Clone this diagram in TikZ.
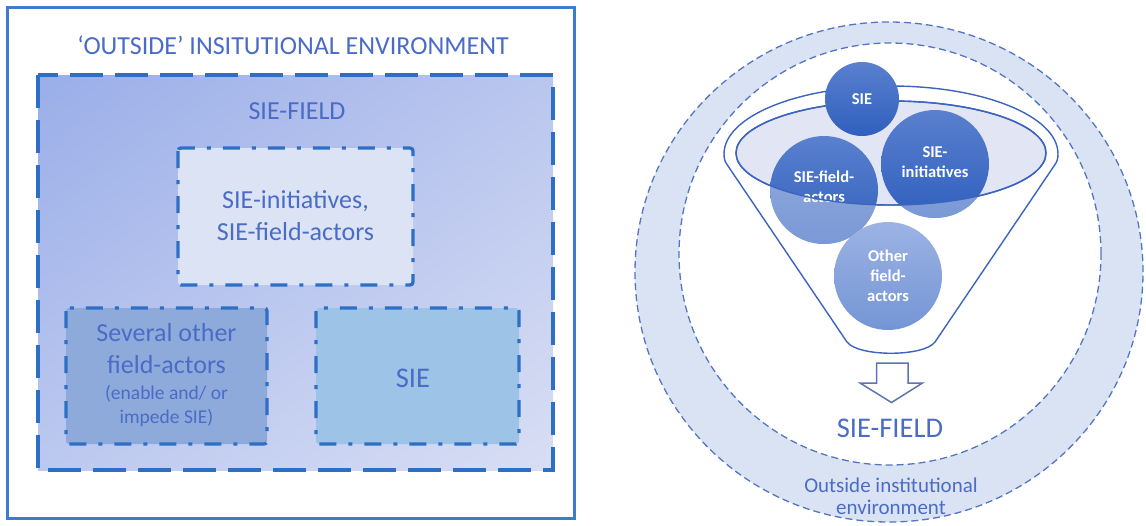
\documentclass[tikz,border=0pt]{standalone}
\usepackage{fontspec}
\setmainfont{Carlito}
\usetikzlibrary{shadings}
\definecolor{frameblue}{HTML}{3D7CCD}
\definecolor{dashblue}{HTML}{2E6FC6}
\definecolor{txtblue}{HTML}{4A6CC6}
\definecolor{fieldUL}{HTML}{9AAEE8}
\definecolor{fieldUR}{HTML}{BAC6EE}
\definecolor{fieldLL}{HTML}{BCC8EF}
\definecolor{fieldLR}{HTML}{D8DEF4}
\definecolor{initfill}{HTML}{DBE3F4}
\definecolor{otherfill}{HTML}{8EAADB}
\definecolor{siefill}{HTML}{9DC3E6}
\definecolor{ringfill}{HTML}{DAE3F3}
\definecolor{ringline}{HTML}{5476C2}
\definecolor{funnelline}{HTML}{3C64BE}
\definecolor{mouthfill}{HTML}{E2E5F4}
\definecolor{circtop}{HTML}{5A80CE}
\definecolor{circbot}{HTML}{2F5FBE}
\definecolor{othertop}{HTML}{9CB3E4}
\definecolor{otherbot}{HTML}{7495D5}
\definecolor{arrowline}{HTML}{5C75B2}
\begin{document}
\begin{tikzpicture}[x=1pt,y=-1pt,
  lbl/.style={anchor=base,inner sep=0pt,text=txtblue},
  wlbl/.style={anchor=base,inner sep=0pt,text=white,font=\fontsize{16.5}{20}\selectfont\bfseries},
  bigdash/.style={draw=dashblue,line width=3.3pt,dash pattern=on 33pt off 12pt},
  dashdot/.style={draw=dashblue,line width=3.3pt,rounded corners=3pt,dash pattern=on 17pt off 12pt on 4pt off 12pt},
  ringdash/.style={draw=ringline,line width=1.3pt,dash pattern=on 7pt off 4pt},
  darkcirc/.style={top color=circtop,bottom color=circbot},
]
\useasboundingbox (0,0) rectangle (1146,525);
\fill[white] (0,0) rectangle (1146,525);

% ---------------- left panel ----------------
\draw[frameblue,line width=3pt] (7,7) rectangle (574,518);
\node[lbl,font=\fontsize{26}{30}\selectfont] (title) at (293,54) {‘OUTSIDE’ INSITUTIONAL ENVIRONMENT};

\shade[shading=bilinear interpolation,upper left=fieldUL,upper right=fieldUR,lower left=fieldLL,lower right=fieldLR]
  (38,75) rectangle (553,470);
\draw[bigdash] (38,75) rectangle (553,470);
\node[lbl,font=\fontsize{26}{30}\selectfont] (fieldlbl) at (297,119.5) {SIE-FIELD};

\filldraw[fill=initfill,dashdot] (178,148) rectangle (413,285);
\node[lbl,font=\fontsize{26}{30}\selectfont] (init1) at (295.5,208) {SIE-initiatives,};
\node[lbl,font=\fontsize{26}{30}\selectfont] (init2) at (295.5,240) {SIE-field-actors};

\filldraw[fill=otherfill,dashdot] (66,308) rectangle (267,444);
\node[lbl,font=\fontsize{26}{30}\selectfont] (sev1) at (166.5,341) {Several other};
\node[lbl,font=\fontsize{26}{30}\selectfont] (sev2) at (166.5,373) {field-actors};
\node[lbl,font=\fontsize{19.5}{24}\selectfont] (sev3) at (166.5,399.5) {(enable and/ or};
\node[lbl,font=\fontsize{19.5}{24}\selectfont] (sev4) at (166.5,423) {impede SIE)};

\filldraw[fill=siefill,dashdot] (316,308) rectangle (519,444);
\node[lbl,font=\fontsize{28.5}{32}\selectfont] (sie) at (413,387) {SIE};

% ---------------- right panel ----------------
\fill[ringfill,even odd rule] (889,272) ellipse [x radius=254pt,y radius=250pt]
      (890,254) circle [radius=211pt];
\draw[ringdash] (889,272) ellipse [x radius=254pt,y radius=250pt];
\draw[ringdash] (890,254) circle [radius=211pt];

% funnel
\draw[funnelline,line width=1.4pt,fill=white]
  (724,154) .. controls (724,116) and (799,86) .. (891,86)
  .. controls (983,86) and (1058,116) .. (1058,154)
  .. controls (1058,159) and (1057,162) .. (1054,166)
  -- (935,342) .. controls (924,357) and (858,357) .. (847,342)
  -- (728,166) .. controls (725,162) and (724,159) .. (724,154) -- cycle;
\fill[mouthfill] (891,153) ellipse [x radius=155pt,y radius=52pt];
\draw[funnelline,line width=1.4pt] (891,153) ellipse [x radius=155pt,y radius=52pt];

% SIE-field-actors and SIE-initiatives circles
\foreach \cx/\cy in {824/190, 935/164}{
  \shade[darkcirc] (\cx,\cy) circle [radius=54pt];
}
\node[wlbl] (fa1) at (824,182.5) {SIE-field-};
\node[wlbl] (fa2) at (824,202.5) {actors};
\node[wlbl] (in1) at (935,157.5) {SIE-};
\node[wlbl] (in2) at (935,177.5) {initiatives};
\foreach \cx/\cy in {824/190, 935/164}{
  \begin{scope}
    \clip (\cx,\cy) circle [radius=54pt];
    \fill[white,opacity=0.36,even odd rule] (700,60) rectangle (1060,300)
        (891,153) ellipse [x radius=155pt,y radius=52pt];
  \end{scope}
}
\draw[funnelline,line width=1.4pt] (891,153) ellipse [x radius=155pt,y radius=52pt];

% SIE circle
\shade[darkcirc] (862,99) circle [radius=37pt];
\node[wlbl] (siec) at (862,104.5) {SIE};

% Other field-actors circle
\shade[top color=othertop,bottom color=otherbot] (888,276) circle [radius=54pt];
\node[wlbl] (ot1) at (888,261.5) {Other};
\node[wlbl] (ot2) at (888,281.5) {field-};
\node[wlbl] (ot3) at (888,301.5) {actors};

% hollow arrow
\draw[arrowline,line width=1.5pt,fill=white,line join=miter]
  (876.5,363) -- (908,363) -- (908,383) -- (922.5,383) -- (891.5,402.5)
  -- (860,383) -- (876.5,383) -- cycle;

\node[lbl,font=\fontsize{28.5}{32}\selectfont] (sief) at (890,437) {SIE-FIELD};
\node[lbl,font=\fontsize{21}{24}\selectfont] (out1) at (891,492) {Outside institutional};
\node[lbl,font=\fontsize{21}{24}\selectfont] (out2) at (891,514) {environment};
\end{tikzpicture}
\end{document}
